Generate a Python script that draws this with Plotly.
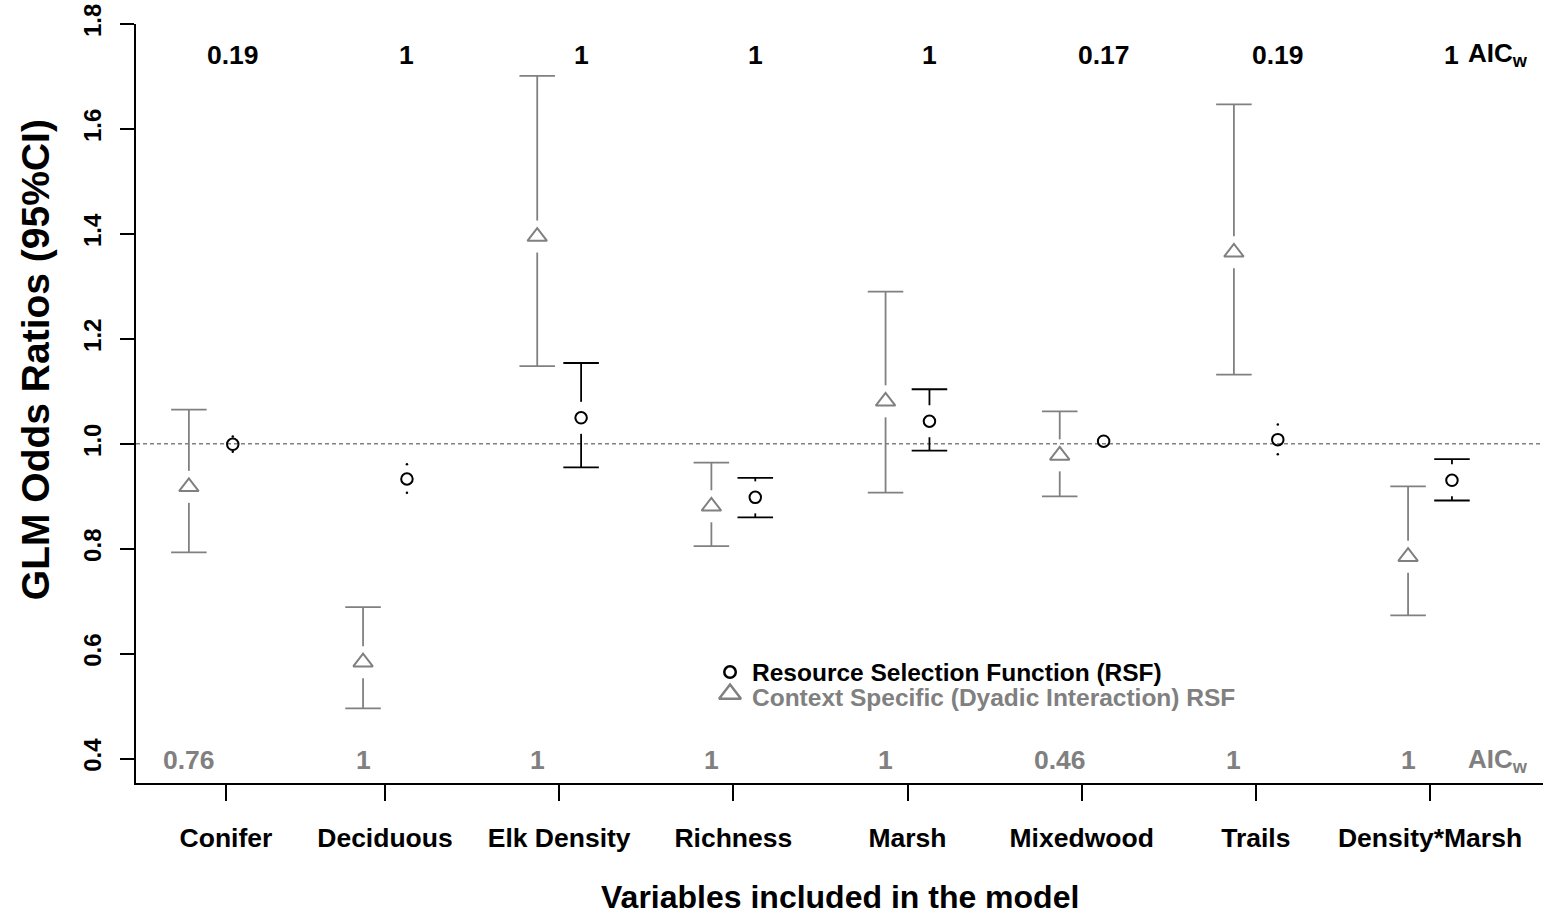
import plotly.graph_objects as go

# ---------------- data ----------------
categories = ["Conifer", "Deciduous", "Elk Density", "Richness", "Marsh",
              "Mixedwood", "Trails", "Density*Marsh"]
cat_pos = [1, 2, 3, 4, 5, 6, 7, 8]
tick_pos = [1.087, 2, 3, 4, 5, 6, 7, 8]

# Resource Selection Function (RSF) - circles
rsf_or = [0.999, 0.933, 1.0495, 0.898, 1.043, 1.005, 1.008, 0.9305]
rsf_lo = [0.985, 0.907, 0.955, 0.860, 0.987, 0.997, 0.980, 0.892]
rsf_hi = [1.014, 0.961, 1.154, 0.935, 1.104, 1.013, 1.037, 0.971]
rsf_aicw = ["0.19", "1", "1", "1", "1", "0.17", "0.19", "1"]

# Context Specific (Dyadic Interaction) RSF - triangles
ctx_or = [0.918, 0.584, 1.395, 0.881, 1.081, 0.978, 1.365, 0.785]
ctx_lo = [0.793, 0.496, 1.148, 0.805, 0.907, 0.900, 1.132, 0.673]
ctx_hi = [1.065, 0.689, 1.701, 0.964, 1.290, 1.062, 1.647, 0.919]
ctx_aicw = ["0.76", "1", "1", "1", "1", "0.46", "1", "1"]

y_ticks = [0.4, 0.6, 0.8, 1.0, 1.2, 1.4, 1.6, 1.8]

# ---------------- style / layout constants ----------------
W, H = 1543, 916
FONT = "Liberation Sans, Arial, sans-serif"
GRAY = "#808080"
BLACK = "#000000"
OFFSET = 0.126      # horizontal dodge of each series from category centre
GAP = 0.0305        # gap left around the symbol by the CI stems
CAP = 0.102         # half-width of CI caps
DOT_MIN = 0.012     # below this distance the CI end is hidden in the symbol
X_RANGE = [0.5704, 8.6487]
Y_RANGE = [0.3537, 1.8]
TOP_LABEL_Y = 1.741
BOT_LABEL_Y = 0.3975
AIC_X = 8.207
LEG_SYM_X = 3.981
LEG_TXT_X = 4.0956
LEG_Y = [0.5651, 0.5232]
LEG_TXT_Y = [0.5651, 0.5175]
TRI_SIZE, CIR_SIZE = 17, 11.5


def ci_paths(xs, ms, los, his):
    sx, sy, dx, dy = [], [], [], []
    for x, m, lo, hi in zip(xs, ms, los, his):
        for end, sign in ((hi, 1), (lo, -1)):
            d = abs(end - m)
            if d > GAP:
                sx += [x, x, None]
                sy += [end, m + sign * GAP, None]
                sx += [x - CAP, x + CAP, None]
                sy += [end, end, None]
            elif d > DOT_MIN:
                dx.append(x)
                dy.append(end)
    return sx, sy, dx, dy


fig = go.Figure()

# reference line at OR = 1
fig.add_shape(type="line", xref="paper", x0=0, x1=1, yref="y", y0=1, y1=1,
              line=dict(color=GRAY, width=1.5, dash="4px,3px"), layer="below")

series = [
    ([p - OFFSET for p in cat_pos], ctx_or, ctx_lo, ctx_hi, GRAY, "triangle-up-open", TRI_SIZE),
    ([p + OFFSET for p in cat_pos], rsf_or, rsf_lo, rsf_hi, BLACK, "circle-open", CIR_SIZE),
]
for xs, ms, los, his, col, sym, size in series:
    sx, sy, dx, dy = ci_paths(xs, ms, los, his)
    fig.add_trace(go.Scatter(x=sx, y=sy, mode="lines",
                             line=dict(color=col, width=1.8),
                             showlegend=False, hoverinfo="skip"))
    if dx:
        fig.add_trace(go.Scatter(x=dx, y=dy, mode="markers",
                                 marker=dict(color=col, size=2.5, symbol="circle"),
                                 showlegend=False, hoverinfo="skip"))
    fig.add_trace(go.Scatter(x=xs, y=ms, mode="markers",
                             marker=dict(symbol=sym, size=size, color=col,
                                         line=dict(color=col, width=2)),
                             showlegend=False))

# legend keys
fig.add_trace(go.Scatter(x=[LEG_SYM_X], y=[LEG_Y[0]], mode="markers",
                         marker=dict(symbol="circle-open", size=CIR_SIZE, color=BLACK,
                                     line=dict(color=BLACK, width=2.5)),
                         showlegend=False, hoverinfo="skip"))
fig.add_trace(go.Scatter(x=[LEG_SYM_X], y=[LEG_Y[1]], mode="markers",
                         marker=dict(symbol="triangle-up-open", size=TRI_SIZE + 2, color=GRAY,
                                     line=dict(color=GRAY, width=2.5)),
                         showlegend=False, hoverinfo="skip"))

ann = []
ann.append(dict(x=LEG_TXT_X, y=LEG_TXT_Y[0], xref="x", yref="y", xanchor="left",
                yanchor="middle", showarrow=False,
                text="<b>Resource Selection Function (RSF)</b>",
                font=dict(family=FONT, size=24.5, color=BLACK)))
ann.append(dict(x=LEG_TXT_X, y=LEG_TXT_Y[1], xref="x", yref="y", xanchor="left",
                yanchor="middle", showarrow=False,
                text="<b>Context Specific (Dyadic Interaction) RSF</b>",
                font=dict(family=FONT, size=24.5, color=GRAY)))

# AICw labels
for p, t in zip(cat_pos, rsf_aicw):
    ann.append(dict(x=p + OFFSET, y=TOP_LABEL_Y, xref="x", yref="y", showarrow=False,
                    text=f"<b>{t}</b>", font=dict(family=FONT, size=26.5, color=BLACK)))
for p, t in zip(cat_pos, ctx_aicw):
    ann.append(dict(x=p - OFFSET, y=BOT_LABEL_Y, xref="x", yref="y", showarrow=False,
                    text=f"<b>{t}</b>", font=dict(family=FONT, size=26.5, color=GRAY)))
ann.append(dict(x=AIC_X, y=TOP_LABEL_Y, xref="x", yref="y", xanchor="left", showarrow=False,
                text="<b>AIC<sub>w</sub></b>", font=dict(family=FONT, size=26, color=BLACK)))
ann.append(dict(x=AIC_X, y=BOT_LABEL_Y, xref="x", yref="y", xanchor="left", showarrow=False,
                text="<b>AIC<sub>w</sub></b>", font=dict(family=FONT, size=26, color=GRAY)))

plot_l, plot_r, plot_t, plot_b = 136, W, 23.7, 783

# axis titles (placed in paper coordinates)
ann.append(dict(x=0.5, y=(plot_b - 897) / (plot_b - plot_t), xref="paper", yref="paper",
                xanchor="center", yanchor="middle", showarrow=False,
                text="<b>Variables included in the model</b>",
                font=dict(family=FONT, size=32, color=BLACK)))
ann.append(dict(x=(35 - plot_l) / (plot_r - plot_l), y=(plot_b - 360) / (plot_b - plot_t),
                xref="paper", yref="paper", xanchor="center", yanchor="middle",
                showarrow=False, textangle=-90,
                text="<b>GLM Odds Ratios (95%CI)</b>",
                font=dict(family=FONT, size=39, color=BLACK)))

fig.update_layout(
    width=W, height=H,
    margin=dict(l=plot_l, r=0, t=plot_t, b=H - plot_b, autoexpand=False),
    paper_bgcolor="white", plot_bgcolor="white",
    font=dict(family=FONT, color=BLACK),
    annotations=ann,
    xaxis=dict(range=X_RANGE, showgrid=False, zeroline=False,
               showline=True, linecolor=BLACK, linewidth=2,
               ticks="outside", ticklen=16, tickwidth=2, tickcolor=BLACK,
               tickvals=tick_pos, ticktext=[f"<b>{c}</b>" for c in categories],
               tickfont=dict(family=FONT, size=26.5, color=BLACK),
               ticklabelstandoff=14),
    yaxis=dict(range=Y_RANGE, showgrid=False, zeroline=False,
               showline=True, linecolor=BLACK, linewidth=2,
               ticks="outside", ticklen=14, tickwidth=2, tickcolor=BLACK,
               tickvals=y_ticks, ticktext=[f"<b>{v:.1f}</b>" for v in y_ticks],
               tickangle=-90, tickfont=dict(family=FONT, size=24, color=BLACK),
               ticklabelstandoff=9),
    showlegend=False,
)

fig.write_html("out.html")
